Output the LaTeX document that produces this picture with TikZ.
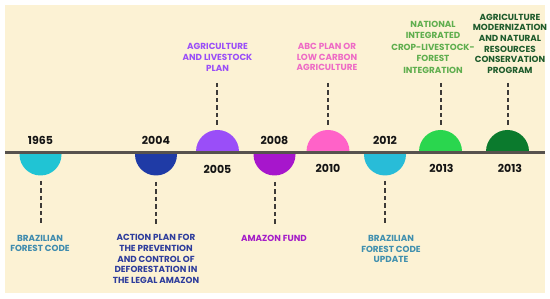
\documentclass[tikz,border=0pt]{standalone}
\usepackage{fontspec}
\setmainfont{Poppins}
\definecolor{bgc}{HTML}{FCF2D4}
\definecolor{linec}{HTML}{57524E}
\definecolor{dashc}{HTML}{3E3B38}
\definecolor{cA}{HTML}{20C4D4}
\definecolor{cB}{HTML}{1F3BA6}
\definecolor{cC}{HTML}{9A4EF8}
\definecolor{cD}{HTML}{A716CC}
\definecolor{cE}{HTML}{FF62C8}
\definecolor{cF}{HTML}{28BCD8}
\definecolor{cG}{HTML}{2AD64E}
\definecolor{cH}{HTML}{0B7A2D}
\definecolor{tA}{HTML}{3E8BAE}
\definecolor{tB}{HTML}{2E3D9C}
\definecolor{tC}{HTML}{9A4EF8}
\definecolor{tD}{HTML}{A41CC8}
\definecolor{tE}{HTML}{EE6BC6}
\definecolor{tF}{HTML}{3F8FAE}
\definecolor{tG}{HTML}{5FAE4E}
\definecolor{tH}{HTML}{1E5B2C}
\begin{document}
\begin{tikzpicture}[x=1pt,y=-1pt,
  yearlbl/.style={font=\fontsize{11}{12}\selectfont\bfseries, text=black!92, inner sep=0pt},
  evlbl/.style={font=\fontsize{8.8}{10.6}\selectfont\bfseries, align=center, inner sep=0pt},
  conn/.style={draw=dashc, line width=2pt, dash pattern=on 4.5pt off 3pt}]
\useasboundingbox (0,0) rectangle (550,299);
\fill[white] (0,0) rectangle (550,299);
\fill[bgc] (5,5) rectangle (545,293);
% segments above the line
\begin{scope}
\clip (0,0) rectangle (550,153);
\fill[cC] (217.5,151.5) circle (21.5);
\fill[cE] (328,151.5) circle (21.5);
\fill[cG] (440.5,151.5) circle (21.5);
\fill[cH] (507.5,151.5) circle (21.5);
\end{scope}
% segments below the line
\begin{scope}
\clip (0,153) rectangle (550,299);
\fill[cA] (40.5,154.5) circle (21);
\fill[cB] (156,154.5) circle (21);
\fill[cD] (274.5,154.5) circle (21);
\fill[cF] (385,154.5) circle (21);
\end{scope}
% timeline
\coordinate (tl) at (5,153);
\coordinate (tr) at (545,153);
\draw[linec, line width=3pt] (tl) -- (tr);
% years
\node[yearlbl] (y1965) at (40.5,140.5) {1965};
\node[yearlbl] (y2004) at (156,140.5) {2004};
\node[yearlbl] (y2005) at (217.5,169) {2005};
\node[yearlbl] (y2008) at (274.5,140.5) {2008};
\node[yearlbl] (y2010) at (328,168.5) {2010};
\node[yearlbl] (y2012) at (385,140.5) {2012};
\node[yearlbl] (y2013a) at (441.5,168) {2013};
\node[yearlbl] (y2013b) at (510,168) {2013};
% event labels
\node[evlbl, text=tA] (eA) at (40,243.5) {BRAZILIAN\\FOREST CODE};
\node[evlbl, text=tB] (eB) at (156,259) {ACTION PLAN FOR\\THE PREVENTION\\AND CONTROL OF\\DEFORESTATION IN\\THE LEGAL AMAZON};
\node[evlbl, text=tC] (eC) at (217.5,57.4) {AGRICULTURE\\AND LIVESTOCK\\PLAN};
\node[evlbl, text=tD] (eD) at (274,238) {AMAZON FUND};
\node[evlbl, text=tE] (eE) at (327,57.3) {ABC PLAN OR\\LOW CARBON\\AGRICULTURE};
\node[evlbl, text=tF] (eF) at (391,249) {BRAZILIAN\\FOREST CODE\\UPDATE};
\node[evlbl, text=tG, font=\fontsize{8.8}{11.5}\selectfont\bfseries] (eG) at (433,47) {NATIONAL\\INTEGRATED\\CROP-LIVESTOCK-\\FOREST\\INTEGRATION};
\node[evlbl, text=tH] (eH) at (510,43.8) {AGRICULTURE\\MODERNIZATION\\AND NATURAL\\RESOURCES\\CONSERVATION\\PROGRAM};
% connector end points
\coordinate (dA1) at (41,181); \coordinate (dA2) at (41,226);
\coordinate (dB1) at (156,182); \coordinate (dB2) at (156,227);
\coordinate (dC1) at (216.5,83); \coordinate (dC2) at (216.5,128);
\coordinate (dD1) at (274.5,182); \coordinate (dD2) at (274.5,227);
\coordinate (dE1) at (328.3,83); \coordinate (dE2) at (328.3,128);
\coordinate (dF1) at (385,181); \coordinate (dF2) at (385,226);
\coordinate (dG1) at (440.7,83); \coordinate (dG2) at (440.7,128);
\coordinate (dH1) at (508.3,83); \coordinate (dH2) at (508.3,128);
\draw[conn] (dA1) -- (dA2);
\draw[conn] (dB1) -- (dB2);
\draw[conn] (dC1) -- (dC2);
\draw[conn] (dD1) -- (dD2);
\draw[conn] (dE1) -- (dE2);
\draw[conn] (dF1) -- (dF2);
\draw[conn] (dG1) -- (dG2);
\draw[conn] (dH1) -- (dH2);
\end{tikzpicture}
\end{document}
